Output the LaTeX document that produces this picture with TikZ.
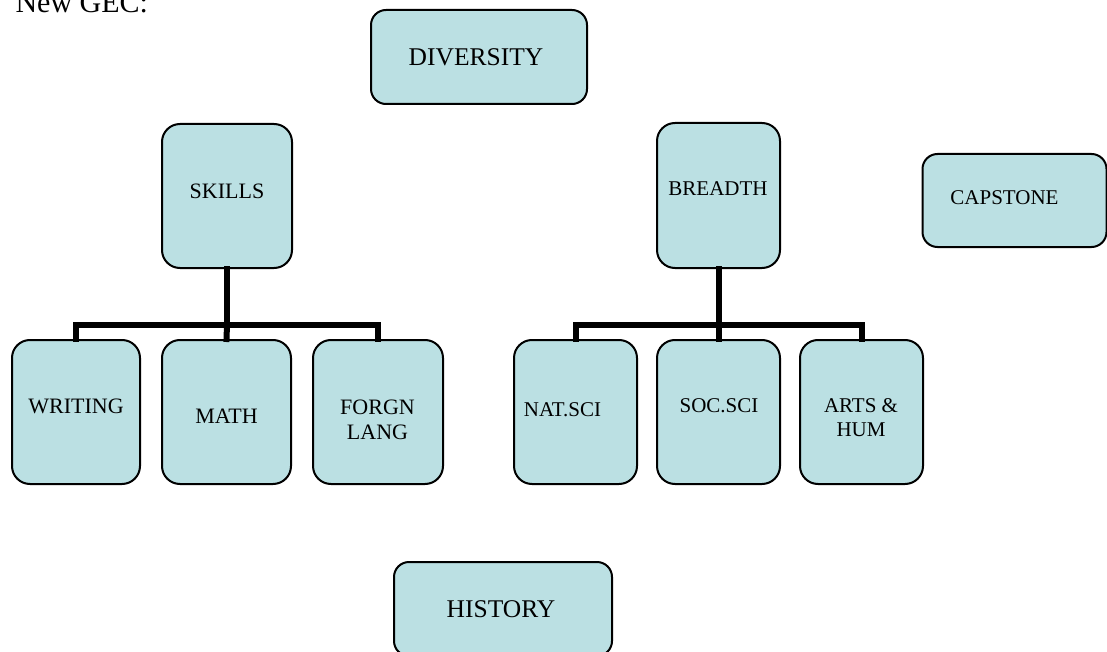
\documentclass[tikz,border=0pt]{standalone}
\usepackage{fontspec}
\setmainfont{Liberation Serif}
\definecolor{boxfill}{RGB}{187,224,227}
\tikzset{
  box/.style={draw, line width=2pt, fill=boxfill, rounded corners=18pt, inner sep=0pt},
  wide/.style={box, rounded corners=15pt, minimum width=216pt, minimum height=94pt},
  tall/.style={box, minimum width=#1, minimum height=144pt},
  bar/.style={line width=6pt, line join=miter, line cap=rect},
  big/.style={font=\fontsize{25.5}{28}\selectfont},
  mid/.style={font=\fontsize{22}{25}\selectfont, align=center},
  small/.style={font=\fontsize{21}{24}\selectfont, align=center}
}
\begin{document}
\begin{tikzpicture}[x=1pt, y=-1pt]
  \useasboundingbox (0,0) rectangle (1107,652);
  \node [anchor=base west, font=\fontsize{30}{32}\selectfont] (title) at (12,13) {New GEC:};

  % top and bottom boxes
  \node [wide] (diversity) at (479,57) {};
  \node [wide, minimum width=218pt] (history) at (503,609) {};
  \node [box, rounded corners=15pt, minimum width=184pt, minimum height=93pt] (capstone) at (1014.5,200.5) {};

  % heads
  \node [tall=130pt] (skills) at (227,196) {};
  \node [tall=123pt, minimum height=145pt] (breadth) at (718.5,195.5) {};

  % left row
  \node [tall=128pt] (writing) at (76,412) {};
  \node [tall=129pt] (math) at (226.5,412) {};
  \node [tall=130pt] (forgn) at (378,412) {};
  % right row
  \node [tall=123pt] (natsci) at (575.5,412) {};
  \node [tall=123pt] (socsci) at (718.5,412) {};
  \node [tall=123pt] (arts) at (861.5,412) {};

  % texts
  \node [big] (diversity-t) at (476,57) {DIVERSITY};
  \node [big] (history-t) at (501,609) {HISTORY};
  \node [small] (capstone-t) at (1004.5,198) {CAPSTONE};
  \node [mid] (skills-t) at (227,191) {SKILLS};
  \node [small] (breadth-t) at (718,189) {BREADTH};
  \node [mid] (writing-t) at (76,406) {WRITING};
  \node [mid] (math-t) at (226.5,416) {MATH};
  \node [mid] (forgn-t) at (377.5,419.5) {FORGN\\LANG};
  \node [small] (natsci-t) at (562.5,410) {NAT.SCI};
  \node [small] (socsci-t) at (719,406) {SOC.SCI};
  \node [small] (arts-t) at (861,418) {ARTS \&\\HUM};

  % tree lines
  \coordinate (lbar) at (227,325);
  \coordinate (rbar) at (718.5,325);
  \draw [bar] (skills.south) -- (lbar);
  \draw [bar] (writing.north) |- (lbar) -| (forgn.north);
  \draw [bar] (lbar) -- (math.north);
  \draw [bar] (breadth.south) -- (rbar);
  \draw [bar] (natsci.north) |- (rbar) -| (arts.north);
  \draw [bar] (rbar) -- (socsci.north);
\end{tikzpicture}
\end{document}
